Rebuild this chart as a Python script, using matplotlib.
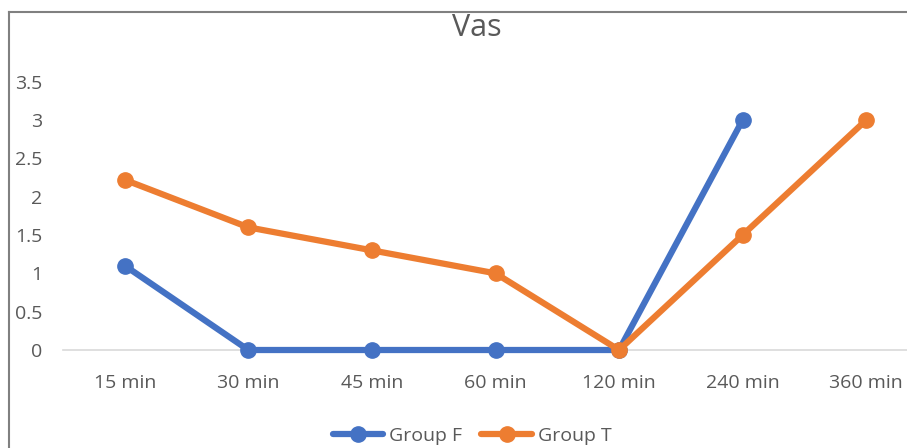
import numpy as np
import matplotlib.pyplot as plt
from matplotlib.lines import Line2D

plt.rcParams['font.family'] = ['Open Sans', 'DejaVu Sans']

times = ['15 min', '30 min', '45 min', '60 min', '120 min', '240 min', '360 min']
group_f = [1.1, 0, 0, 0, 0, 3, np.nan]
group_t = [2.22, 1.6, 1.3, 1.0, 0, 1.5, 3]

blue = '#4472C4'
orange = '#ED7D31'
text_gray = '#595959'

fig = plt.figure(figsize=(9.07, 4.48), dpi=100)
ax = fig.add_axes([63 / 907, 98 / 448, 865 / 907, 268.3 / 448])

x = np.arange(len(times))
ax.plot(x, group_f, color=blue, lw=4.5, marker='o', ms=11, label='Group F',
        solid_capstyle='round', zorder=3, clip_on=False)
ax.plot(x, group_t, color=orange, lw=4.5, marker='o', ms=11, label='Group T',
        solid_capstyle='round', zorder=3, clip_on=False)

ax.set_xlim(-0.5, len(times) - 0.5)
ax.set_ylim(0, 3.5)
ax.set_xticks(x)
ax.set_xticklabels(times)
ax.set_yticks(np.arange(0, 3.51, 0.5))
ax.set_yticklabels(['0', '0.5', '1', '1.5', '2', '2.5', '3', '3.5'])
ax.tick_params(axis='both', length=0, labelsize=14, labelcolor=text_gray)
ax.tick_params(axis='x', pad=17)
ax.tick_params(axis='y', pad=15)
for side in ['top', 'right', 'left']:
    ax.spines[side].set_visible(False)
ax.spines['bottom'].set_color('#D9D9D9')
ax.spines['bottom'].set_linewidth(1.2)
ax.spines['bottom'].set_zorder(1)

fig.text(477 / 907, 1 - 28 / 448, 'Vas', ha='center', va='center',
         fontsize=22, color=text_gray)

fig.legend(loc='center', bbox_to_anchor=(472 / 907, 1 - 436 / 448), ncol=2,
           frameon=False, fontsize=14, labelcolor=text_gray, handlelength=2.6,
           handletextpad=0.3, columnspacing=1.0)

# chart frame
fig.add_artist(Line2D([9 / 907, 1], [1 - 12 / 448, 1 - 12 / 448],
                      color='#808080', lw=1.5, transform=fig.transFigure))
fig.add_artist(Line2D([9 / 907, 9 / 907], [0, 1 - 12 / 448],
                      color='#808080', lw=1.5, transform=fig.transFigure))

fig.savefig('out.png', dpi=100)
